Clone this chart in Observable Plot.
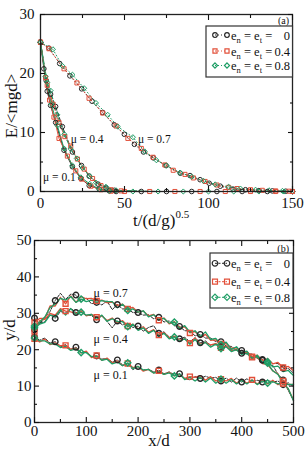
<!DOCTYPE html>
<html><head><meta charset="utf-8">
<script src="https://cdn.jsdelivr.net/npm/d3@7"></script>
<script src="https://cdn.jsdelivr.net/npm/@observablehq/plot@0.6"></script>
<style>
body{margin:0;background:#fff;}
#chart{width:307px;height:450px;position:relative;overflow:hidden;}
#chart svg{display:block;}
</style></head><body><div id="chart"></div>
<script>
// ---------- categories ----------
const RES = ["0", "0.4", "0.8"];            // e_n = e_t
const RES_LABELS = ["0", "0.4", "0.8"];
const MU_LABELS_A = ["μ = 0.1", "μ = 0.4", "μ = 0.7"];
const MU_A_X = [1.5, 18, 58];   // annotation anchors (data units)
const MU_A_Y = [2.4, 8.9, 8.9];
const MU_LABELS_B = ["μ = 0.7", "μ = 0.4", "μ = 0.1"];
const MU_B_X = [114, 114, 114];
const MU_B_Y = [35.6, 22.8, 13.0];

// ---------- panel (a): E/<mgd> vs t/(d/g)^0.5 ----------
const a1_t0 = [0,2,4,6,9,14,19,24,29,35,41,45,75,105,135,150];
const a1_E0 = [25.3,20.8,17.0,14.6,11.7,7.0,4.2,2.2,1.0,0.4,0.1,0,0,0,0,0];
const a1_t4 = [0,3,5.4,8,11,16,21,24.4,30,36,42,50,80,110,140,150];
const a1_E4 = [25.3,19.3,15.5,12.6,9.0,6.0,3.5,2.1,0.9,0.3,0.05,0,0,0,0,0];
const a1_t8 = [0,3,6.5,10,14,19,24,29.3,35,41,55,85,115,145];
const a1_E8 = [25.3,19.5,14.8,11.2,7.3,4.4,2.4,1.3,0.4,0.1,0,0,0,0];

const a4_t0 = [0,3.4,6,9,13,19,24.4,29,34.3,39,44,60,90,120,150];
const a4_E0 = [25.3,18.8,16.5,14.4,11,6.7,4.4,2.6,1.25,0.6,0.2,0,0,0,0];
const a4_t4 = [0,4,7.5,11,14.5,18,22,26,31,36,42,48,65,95,125];
const a4_E4 = [25.3,18,14.8,11.7,9.3,7.7,5.5,3.8,2.2,1.0,0.3,0.1,0,0,0];
const a4_t8 = [0,4,6,10,14.2,18,21.6,25,29.3,33,39,45,70,100,130];
const a4_E8 = [25.3,18.5,17.1,13,9.7,7.2,5.6,4,2.6,1.5,0.8,0.2,0,0,0];

const a7_t0 = [0,5,11.4,17.5,24.5,30.7,37,43.9,49.9,55.9,61.3,67.2,74.7,83.2,89,95,100.4,107,114.6,122,130,138,146];
const a7_E0 = [25.3,24.3,21.7,19.6,17.4,15.3,13.4,11.3,9.7,8.0,6.7,5.7,4.4,3.1,2.7,2.0,1.4,0.9,0.4,0.3,0.15,0.1,0.05];
const a7_t4 = [0,5,14,21.7,28.9,37,45,52,60,67,74,79,86,91,98,105,112,117,125,132,140,148];
const a7_E4 = [25.3,24.2,20.8,18.4,15.8,13.3,11.1,9.0,7.3,5.8,4.5,3.6,2.9,2.3,1.7,1.1,0.7,0.5,0.3,0.2,0.1,0.05];
const a7_t8 = [0,7.4,13,19,26,33,40,46,55,62,69,75,83,90,97,104,112,119,128,136,144,150];
const a7_E8 = [25.3,24.1,21.3,19.8,17.5,15,13,11,9.2,6.8,5.3,4.4,3.2,2.5,1.8,1.2,0.8,0.5,0.3,0.2,0.1,0.05];

const A_X_MAJOR = [0,50,100,150], A_X_MINOR = [25,75,125];
const A_Y_MAJOR = [0,10,20,30],  A_Y_MINOR = [5,15,25];

// ---------- panel (b): y/d vs x/d ----------
const xB = [0,10,20,30,40,50,60,70,80,90,100,110,120,130,140,150,160,170,180,190,200,210,220,230,240,250,260,270,280,290,300,310,320,330,340,350,360,370,380,390,400,410,420,430,440,450,460,470,480,490,500];
const b7_y0 = [28.7,27,29,30.5,33.5,35.5,33.8,35.3,35,33.2,34.2,32.6,33,32.3,33.4,31,32.4,31.2,31.2,30.2,30.2,29.5,29.6,28.5,28.9,27.6,27.9,26.6,26.4,25.2,25.2,23.8,24.2,23.2,23.2,22.2,22.2,21,20.9,19.8,19.8,18.8,18.8,17.6,17.3,16,15.7,13.3,11.7,8.8,6];
const b7_y4 = [27.5,28.6,28.6,32,32,34.4,32.6,34.8,33,34.6,34,34.1,33.4,33.6,32.9,33.1,32.2,32.5,31.2,31.6,30.3,30.6,29.3,29.7,28.1,28.7,27.1,27.7,26.1,26.3,24.6,25,23.3,24.2,22.6,22.7,21.6,21.7,20.4,20.5,19.1,19.3,17.9,17.9,16.2,15.9,14.2,13.4,10.7,9.2,6.2];
const b7_y8 = [26.5,27.6,29,31.6,32.5,34.1,33.6,34.6,33,33.9,33.2,33.6,33,33.5,33.2,33.2,31.5,32.5,30.8,31.2,30.3,30.7,29,29.6,28.3,28.6,27.3,27.6,25.8,26.6,24.8,25.2,23.6,24.9,22.8,23.1,21.4,22.1,20.1,20.8,19.1,19.6,17.6,18.1,16.4,16.3,14.2,13.2,10.9,9.3,6];
const b4_y0 = [25.5,27.5,27.6,30,28.6,30.5,30.1,31.4,30.2,30.4,29.5,29.4,28.2,29.3,27.8,26,27.9,26.8,27.3,26.1,26.5,25.1,26.1,26.6,24.5,24.9,23.5,23.6,23,23.4,22.2,23.3,21.9,22.4,21.2,21.6,20.7,20.9,19.9,19.9,19,19.2,18,18.2,17.1,17.3,16.2,16.2,14.9,14.8,13.6];
const b4_y4 = [25,28,28.3,30,29.5,31.3,30.6,30.4,30,30.7,29.3,29.7,28.9,29.3,28,28.7,27.3,28,26.5,27,25.7,26.3,24.8,25.5,24,24.7,23.3,23.7,22.6,23,21.8,23.2,21.5,22,21.3,21.7,20.5,21,19.7,20,19.1,19.5,18.1,18.5,17.1,17.5,16.1,16.5,15.1,15.4,14.2];
const b4_y8 = [26,27,27.5,29.5,29,31,29.5,31.3,29.7,30.3,29.5,29.7,28.3,29.5,27.8,28.5,27.7,27.7,26.3,27,25.3,26,24.5,25.3,23.7,24.5,23,23.5,22.3,23,21.5,22.8,21.3,22,20.7,21.5,20.3,20.8,19.5,20,18.7,19,17.5,18.5,16.5,16.7,15.3,15.5,14,14.3,12.9];
const b1_y0 = [23.5,22.6,23.2,21.8,22.2,20.8,21.4,20.1,20.7,19.1,19.4,18.1,18.3,17.4,17.6,16.6,17.2,15.8,16.2,14.5,15.4,14.4,14.6,13.9,14.4,13.4,13.9,13.1,13.4,12.1,11.7,12.6,12.1,12.7,12.2,12.4,11.4,12.2,11.1,12.2,11.1,12,11.1,11.6,11.1,11.6,11.1,11.4,10.4,10.9,9.9];
const b1_y4 = [23,22.1,22.9,21.4,21.9,21.1,21.2,20.1,20.4,19.1,19.6,17.8,18.4,17.1,17.7,16.4,16.9,15.6,16.2,15.1,15.4,14.1,14.6,13.6,14.2,13.2,13.8,12.8,13.2,12.1,12.6,12.4,12.9,11.6,12.6,11.4,11.9,11.4,12.1,10.8,11.9,10.8,11.7,10.6,11.7,10.6,11.6,10.4,11.4,10.4,10.5];
const b1_y8 = [23.2,22.4,22.4,21.6,21.6,20.6,20.9,19.8,20.2,19.2,19.2,18.1,18.2,17.1,17.4,16.1,16.6,15.6,16.4,14.8,15.4,14.4,14.6,13.6,13.9,13.2,13.6,12.8,13.4,11.8,12.4,11.4,12.4,11.1,12.2,10.8,11.9,10.8,11.8,10.6,11.6,10.6,11.7,10.4,11.4,10.8,11.2,10.6,10.9,10.4,10.5];
const B_X_MAJOR = [0,100,200,300,400,500], B_X_MINOR = [50,150,250,350,450];
const B_Y_MAJOR = [0,10,20,30,40,50], B_Y_MINOR = [5,15,25,35,45];
const B_MARK_EVERY = [40, 60, 90];  // marker spacing along x for e = 0, 0.4, 0.8

// ---------- styling ----------
const FONT = '"Liberation Serif","Times New Roman",serif';
const COLORS = ["#262626", "#e2503a", "#1f9e66"];
const SYMBOLS = ["circle", "square", "diamond2"];

function frameAxes(xMaj, xMin, yMaj, yMin, padX, padY) {
  const out = [];
  for (const a of ["bottom", "top"]) {
    out.push(Plot.axisX({ticks: xMaj, anchor: a, tickSize: -5, fill: "none", label: null, strokeWidth: 1.1}));
    out.push(Plot.axisX({ticks: xMin, anchor: a, tickSize: -3, fill: "none", label: null, strokeWidth: 1.1}));
  }
  for (const a of ["left", "right"]) {
    out.push(Plot.axisY({ticks: yMaj, anchor: a, tickSize: -5, fill: "none", label: null, strokeWidth: 1.1}));
    out.push(Plot.axisY({ticks: yMin, anchor: a, tickSize: -3, fill: "none", label: null, strokeWidth: 1.1}));
  }
  out.push(Plot.axisX({ticks: xMaj, anchor: "bottom", tickSize: 0, tickPadding: padX, label: null, fontSize: 15, fontFamily: FONT, tickFormat: d => String(d)}));
  out.push(Plot.axisY({ticks: yMaj, anchor: "left", tickSize: 0, tickPadding: padY, label: null, fontSize: 15, fontFamily: FONT, tickFormat: d => String(d)}));
  return out;
}

function legend(svg, box, rowsY, tag, tagY, dash) {
  const g = d3.select(svg).append("g").attr("font-family", FONT).attr("fill", "#111").attr("text-anchor", "start");
  g.append("text").attr("x", 289).attr("y", tagY).attr("text-anchor", "end").attr("font-size", 10).text(tag);
  g.append("rect").attr("x", box.x).attr("y", box.y).attr("width", box.w).attr("height", box.h)
    .attr("fill", "white").attr("stroke", "#333").attr("stroke-width", 1.2);
  RES.forEach((e, i) => {
    const cy = rowsY[i];
    g.append("line").attr("x1", 215).attr("x2", 227).attr("y1", cy).attr("y2", cy)
      .attr("stroke", COLORS[i]).attr("stroke-width", 1).attr("stroke-dasharray", dash);
    const sym = [d3.symbolCircle, d3.symbolSquare, d3.symbolDiamond2][i];
    for (const x of [215, 227]) {
      g.append("path").attr("d", d3.symbol(sym, Math.PI * box.r * box.r)())
        .attr("transform", `translate(${x},${cy})`).attr("fill", "none")
        .attr("stroke", COLORS[i]).attr("stroke-width", 1.2);
    }
    const t = g.append("text").attr("x", 231).attr("y", cy + 4.5).attr("font-size", 12.5).attr("text-anchor", "start");
    t.append("tspan").text("e");
    t.append("tspan").attr("dy", 3).attr("font-size", 8.5).text("n");
    t.append("tspan").attr("dy", -3).text(" = e");
    t.append("tspan").attr("dy", 3).attr("font-size", 8.5).text("t");
    t.append("tspan").attr("dy", -3).text(" =");
    g.append("text").attr("x", 290).attr("y", cy + 4.5).attr("text-anchor", "end").attr("font-size", 12.5).text(RES_LABELS[i]);
  });
}

// ---------- panel (a) ----------
const rowsA = [];
function addA(mu, e, ts, Es) { ts.forEach((t, i) => rowsA.push({mu, e, t, E: Es[i], key: mu + "/" + e})); }
addA("0.7", "0", a7_t0, a7_E0); addA("0.7", "0.4", a7_t4, a7_E4); addA("0.7", "0.8", a7_t8, a7_E8);
addA("0.4", "0", a4_t0, a4_E0); addA("0.4", "0.4", a4_t4, a4_E4); addA("0.4", "0.8", a4_t8, a4_E8);
addA("0.1", "0", a1_t0, a1_E0); addA("0.1", "0.4", a1_t4, a1_E4); addA("0.1", "0.8", a1_t8, a1_E8);
const annA = MU_LABELS_A.map((label, i) => ({label, x: MU_A_X[i], y: MU_A_Y[i]}));

const lineA = (mu, dash) => Plot.line(rowsA.filter(d => d.mu === mu),
  {x: "t", y: "E", z: "key", stroke: "e", strokeWidth: 1, strokeDasharray: dash});

const plotA = Plot.plot({
  width: 307, height: 232, marginLeft: 40, marginRight: 15, marginTop: 14, marginBottom: 41,
  x: {domain: [0, 150], label: null},
  y: {domain: [0, 30], label: null},
  color: {domain: RES, range: COLORS},
  symbol: {domain: RES, range: SYMBOLS},
  style: {fontFamily: FONT, fontSize: "15px", color: "#111", background: "white", overflow: "visible"},
  marks: [
    lineA("0.7", "1,2.5"), lineA("0.4", "4,2"), lineA("0.1", null),
    Plot.dot(rowsA, {x: "t", y: "E", stroke: "e", symbol: "e", r: 2.3, strokeWidth: 1, fill: "none"}),
    Plot.text(annA, {x: "x", y: "y", text: "label", textAnchor: "start", fontSize: 11.5, fontFamily: FONT, fill: "#111"}),
    Plot.frame({stroke: "#222", strokeWidth: 1.3}),
    ...frameAxes(A_X_MAJOR, A_X_MINOR, A_Y_MAJOR, A_Y_MINOR, 6, 6)
  ]
});
{
  const s = d3.select(plotA);
  s.append("text").attr("transform", "translate(17,106) rotate(-90)").attr("text-anchor", "middle")
    .attr("font-family", FONT).attr("font-size", 17).attr("fill", "#111").text("E/<mgd>");
  const t = s.append("text").attr("x", 133).attr("y", 226).attr("font-family", FONT).attr("text-anchor", "start")
    .attr("font-size", 17).attr("fill", "#111");
  t.append("tspan").text("t/(d/g)");
  t.append("tspan").attr("dy", -8).attr("font-size", 11).text("0.5");
  legend(plotA, {x: 206, y: 26, w: 86.5, h: 51, r: 2.3}, [35, 51, 65.5], "(a)", 24, "1,2");
}

// ---------- panel (b) ----------
const rowsB = [];
function addB(mu, ei, ys) { ys.forEach((y, i) => rowsB.push({mu, e: RES[ei], ei, x: xB[i], y, key: mu + "/" + RES[ei]})); }
addB("0.1", 0, b1_y0); addB("0.4", 0, b4_y0); addB("0.7", 0, b7_y0);
addB("0.1", 1, b1_y4); addB("0.4", 1, b4_y4); addB("0.7", 1, b7_y4);
addB("0.1", 2, b1_y8); addB("0.4", 2, b4_y8); addB("0.7", 2, b7_y8);
const markB = rowsB.filter(d => d.x % B_MARK_EVERY[d.ei] === 0);
const annB = MU_LABELS_B.map((label, i) => ({label, x: MU_B_X[i], y: MU_B_Y[i]}));

const plotB = Plot.plot({
  width: 307, height: 218, marginLeft: 34, marginRight: 14, marginTop: 8, marginBottom: 28,
  x: {domain: [0, 500], label: null},
  y: {domain: [0, 50], label: null},
  color: {domain: RES, range: COLORS},
  symbol: {domain: RES, range: SYMBOLS},
  style: {fontFamily: FONT, fontSize: "15px", color: "#111", background: "white", overflow: "visible"},
  marks: [
    Plot.line(rowsB.filter(d => d.ei === 0), {x: "x", y: "y", z: "key", stroke: "e", strokeWidth: 1, strokeDasharray: "3,1.5"}),
    Plot.line(rowsB.filter(d => d.ei === 1), {x: "x", y: "y", z: "key", stroke: "e", strokeWidth: 1.3}),
    Plot.line(rowsB.filter(d => d.ei === 2), {x: "x", y: "y", z: "key", stroke: "e", strokeWidth: 1.3}),
    Plot.dot(markB, {x: "x", y: "y", stroke: "e", symbol: "e", r: 2.8, strokeWidth: 1.4, fill: "none"}),
    Plot.text(annB, {x: "x", y: "y", text: "label", textAnchor: "start", fontSize: 12, fontFamily: FONT, fill: "#111"}),
    Plot.frame({stroke: "#222", strokeWidth: 1.3}),
    ...frameAxes(B_X_MAJOR, B_X_MINOR, B_Y_MAJOR, B_Y_MINOR, 3, 3)
  ]
});
{
  const s = d3.select(plotB);
  s.append("text").attr("transform", "translate(15,98) rotate(-90)").attr("text-anchor", "middle")
    .attr("font-family", FONT).attr("font-size", 17).attr("fill", "#111").text("y/d");
  s.append("text").attr("x", 159).attr("y", 214).attr("text-anchor", "middle").attr("font-family", FONT)
    .attr("font-size", 17).attr("fill", "#111").text("x/d");
  legend(plotB, {x: 210, y: 21, w: 83, h: 55, r: 2.8}, [31.3, 49.7, 65.3], "(b)", 20, "2,1.5");
}

document.getElementById("chart").append(plotA, plotB);
</script></body></html>
